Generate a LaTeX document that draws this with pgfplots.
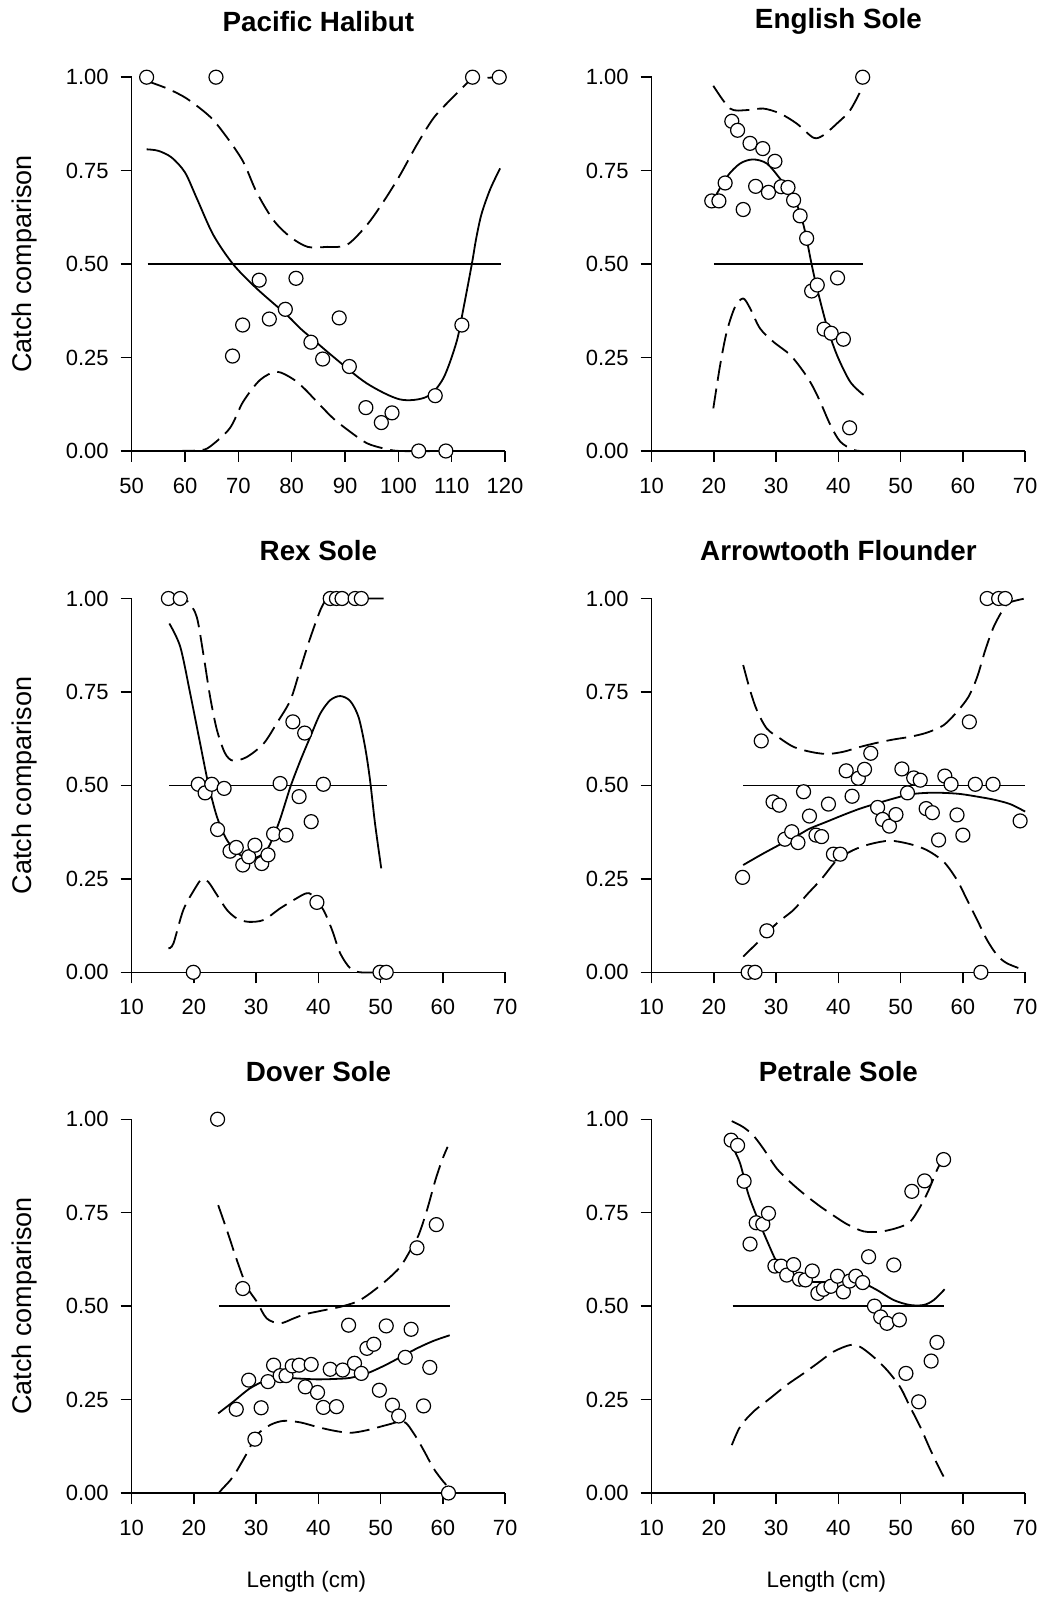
\documentclass[border=0pt]{standalone}
\usepackage{fontspec}
\setmainfont{Liberation Sans}
\usepackage{pgfplots}
\pgfplotsset{compat=1.18}

\pgfplotsset{
  panel/.style={
    width=186.7pt, height=186.9pt, scale only axis,
    xmin=10, xmax=70, ymin=0, ymax=1,
    xtick={10,20,...,70}, ytick={0,0.25,0.5,0.75,1},
    axis x line*=bottom, axis y line*=left,
    tick align=outside, major tick length=5.5pt,
    axis line style={line width=0.7pt},
    every tick/.style={black, line width=0.7pt},
    /pgf/number format/assume math mode=true,
    tick label style={font=\fontsize{11}{13}\selectfont},
    x tick label style={yshift=-4.5pt},
    y tick label style={xshift=-2.5pt, /pgf/number format/.cd, fixed, fixed zerofill, precision=2, /tikz/.cd},
    title style={font=\bfseries\fontsize{13.9}{16}\selectfont, at={(0.5,1)}, anchor=center, yshift=18pt},
    clip=false,
  },
  toprow/.style={title style={yshift=4pt}},
  leftpanel/.style={ylabel={Catch comparison},
    ylabel style={at={(axis description cs:-0.288,0.5)}, anchor=center,
      font=\fontsize{13.5}{16}\selectfont}},
  bottompanel/.style={xlabel={Length (cm)},
    xlabel style={at={(axis description cs:0.5,-0.254)}, anchor=base, xshift=-6pt,
      font=\fontsize{11.2}{13}\selectfont}},
  fit/.style={black, line width=0.9pt, smooth, no markers},
  ci/.style={black, line width=0.9pt, smooth, dash pattern=on 10pt off 4pt, no markers},
  ref/.style={black, line width=0.9pt, no markers},
  obs/.style={only marks, mark=*, mark size=3.5pt,
    mark options={fill=white, draw=black, line width=0.6pt}},
}

\begin{document}
\begin{tikzpicture}

% Pacific Halibut
\begin{axis}[panel, toprow, leftpanel, at={(0pt,0pt)}, title={Pacific Halibut},
  xmin=50, xmax=120, xtick={50,60,...,120}]
\addplot[ref] coordinates {(53,0.5) (119.3,0.5)};
\addplot[ci] coordinates {(52.8,0.99) (56.6,0.970) (60.3,0.943) (64.7,0.894) (67.8,0.840)
  (70.9,0.774) (73.4,0.693) (76.55,0.618) (79.7,0.573) (83.0,0.546) (86.6,0.546)
  (90.3,0.551) (94.06,0.604) (97.2,0.667) (100.3,0.738) (103.4,0.818) (106.55,0.890)
  (109.7,0.939) (112.8,0.983) (113.9,0.995) (118.9,1.0)};
\addplot[ci] coordinates {(52.8,0) (58,0) (62.8,0.002) (64.7,0.012) (68.4,0.061) (70.9,0.132)
  (74.06,0.190) (77.2,0.212) (80.3,0.192) (82.5,0.165) (84.7,0.132) (87.8,0.087)
  (90.9,0.052) (94.06,0.021) (97.2,0.007) (100.3,0) (110,0) (118.9,0)};
\addplot[fit] coordinates {(52.8,0.807) (55.0,0.803) (57.5,0.785) (60.0,0.745) (62.2,0.676)
  (65.3,0.578) (69.05,0.499) (73.4,0.435) (79.06,0.364) (81.6,0.328) (83.3,0.307)
  (87.8,0.252) (94.06,0.181) (100.3,0.138) (105.3,0.145) (108.4,0.194) (110.9,0.292)
  (112.2,0.382) (113.75,0.499) (114.6,0.57) (115.6,0.635) (117.2,0.70) (119.06,0.756)};
\addplot[obs] coordinates {(52.8,1) (65.8,1) (68.9,0.254) (70.8,0.337) (73.9,0.457)
  (75.8,0.353) (78.8,0.379) (80.8,0.462) (83.6,0.291) (85.8,0.246) (88.9,0.356)
  (90.8,0.226) (93.9,0.116) (96.8,0.076) (98.8,0.102) (103.8,0) (106.9,0.148)
  (108.9,0) (111.9,0.337) (113.9,1) (118.9,1)};
\end{axis}

% English Sole
\begin{axis}[panel, toprow, at={(260pt,0pt)}, title={English Sole}]
\addplot[ref] coordinates {(20,0.5) (44,0.5)};
\addplot[ci] coordinates {(19.9,0.977) (22.6,0.916) (25.3,0.912) (27.95,0.916) (30.6,0.903)
  (33.3,0.876) (36.0,0.838) (37.6,0.845) (39.76,0.876) (41.9,0.912) (43.9,0.974)};
\addplot[ci] coordinates {(19.9,0.114) (21.0,0.23) (22.06,0.319) (23.4,0.386) (24.7,0.408)
  (25.8,0.382) (27.4,0.328) (29.56,0.292) (32.25,0.257) (34.4,0.212) (35.8,0.175)
  (37.07,0.132) (38.7,0.07) (40.3,0.025) (42.4,0.003) (44,0)};
\addplot[fit] coordinates {(19.9,0.671) (22.06,0.733) (24.2,0.769) (26.3,0.78) (28.5,0.769)
  (30.6,0.729) (32.8,0.680) (34.4,0.604) (35.7,0.499) (36.5,0.44) (38.1,0.337)
  (39.76,0.257) (41.9,0.185) (44.04,0.15)};
\addplot[obs] coordinates {(19.65,0.669) (20.8,0.669) (21.8,0.717) (22.87,0.882) (23.8,0.858)
  (24.7,0.646) (25.8,0.823) (26.7,0.708) (27.85,0.809) (28.76,0.692) (29.8,0.775)
  (30.8,0.707) (31.9,0.705) (32.8,0.671) (33.85,0.629) (34.9,0.569) (35.7,0.428)
  (36.6,0.444) (37.7,0.326) (38.84,0.315) (39.86,0.463) (40.8,0.299) (41.8,0.062)
  (43.9,1.0)};
\end{axis}

% Rex Sole
\begin{axis}[panel, leftpanel, at={(0pt,-260.65pt)}, title={Rex Sole}]
\addplot[ref] coordinates {(16,0.5) (51.1,0.5)};
\addplot[ci] coordinates {(16,1.0) (17.8,1.0) (19.1,0.991) (20.45,0.951) (21.5,0.853)
  (22.6,0.737) (23.7,0.648) (25.0,0.586) (26.3,0.566) (28.5,0.576) (31.2,0.612)
  (33.3,0.666) (35.5,0.728) (37.07,0.81) (38.7,0.895) (40.56,0.978) (41.9,1.0)
  (46,1.0) (50.5,1.0)};
\addplot[ci] coordinates {(15.9,0.064) (16.7,0.077) (18.3,0.167) (20.2,0.225) (21.26,0.249)
  (22.3,0.242) (23.7,0.207) (25.3,0.167) (26.9,0.144) (28.76,0.135) (31.2,0.14)
  (33.85,0.171) (36.5,0.198) (38.0,0.211) (39.0,0.207) (40.8,0.167) (42.2,0.113)
  (43.5,0.051) (45.1,0.011) (46.7,0) (50.9,0)};
\addplot[fit] coordinates {(16.05,0.933) (17.8,0.871) (19.4,0.746) (21.0,0.612) (22.3,0.505)
  (23.7,0.416) (25.3,0.354) (27.4,0.314) (29.56,0.305) (31.7,0.327) (33.6,0.398)
  (35.5,0.496) (37.07,0.565) (38.7,0.63) (40.3,0.692) (41.9,0.728) (43.5,0.739)
  (45.1,0.726) (46.45,0.683) (47.5,0.603) (48.3,0.514) (49.1,0.398) (50.1,0.278)};
\addplot[obs] coordinates {(15.9,1) (17.8,1) (19.9,0) (20.7,0.503) (21.8,0.48) (22.87,0.503)
  (23.8,0.382) (24.85,0.492) (25.8,0.324) (26.8,0.334) (27.85,0.287) (28.8,0.309)
  (29.8,0.34) (30.9,0.291) (31.9,0.314) (32.8,0.37) (33.85,0.505) (34.8,0.367)
  (35.9,0.67) (36.9,0.47) (37.8,0.64) (38.84,0.403) (39.76,0.187) (40.8,0.503)
  (41.9,1) (42.9,1) (43.8,1) (45.9,1) (46.9,1) (49.9,0) (50.9,0)};
\end{axis}

% Arrowtooth Flounder
\begin{axis}[panel, at={(260pt,-260.65pt)}, title={Arrowtooth Flounder}]
\addplot[ref] coordinates {(24.7,0.5) (70,0.5)};
\addplot[ci] coordinates {(24.7,0.822) (25.8,0.755) (26.9,0.701) (28.5,0.652) (30.6,0.626)
  (32.8,0.603) (35.46,0.59) (38.15,0.584) (40.8,0.59) (43.5,0.603) (46.2,0.614)
  (48.9,0.623) (51.5,0.63) (54.2,0.641) (56.9,0.661) (59.06,0.697) (60.9,0.737)
  (62.3,0.79) (63.6,0.862) (64.95,0.924) (66.55,0.973) (67.6,0.99) (70,1.0)};
\addplot[ci] coordinates {(24.7,0.042) (27.4,0.086) (30.1,0.131) (32.8,0.167) (34.9,0.207)
  (37.3,0.25) (39.76,0.30) (42.4,0.327) (45.1,0.343) (48.3,0.352) (51.5,0.343)
  (54.2,0.327) (56.9,0.296) (59.06,0.247) (60.7,0.193) (62.3,0.14) (63.9,0.086)
  (65.5,0.046) (67.1,0.024) (70,0.005)};
\addplot[fit] coordinates {(24.7,0.287) (27.95,0.318) (31.2,0.347) (33.85,0.37) (35.46,0.385)
  (38.15,0.403) (40.8,0.421) (43.5,0.438) (46.2,0.452) (48.9,0.465) (51.5,0.476)
  (54.2,0.48) (56.9,0.48) (59.6,0.477) (62.3,0.47) (64.95,0.462) (67.6,0.45) (70,0.43)};
\addplot[obs] coordinates {(24.6,0.254) (25.5,0) (26.6,0) (27.6,0.619) (28.5,0.111)
  (29.5,0.456) (30.5,0.447) (31.4,0.356) (32.5,0.376) (33.5,0.347) (34.4,0.483)
  (35.35,0.418) (36.4,0.367) (37.3,0.363) (38.4,0.45) (39.2,0.316) (40.3,0.316)
  (41.25,0.539) (42.2,0.471) (43.2,0.519) (44.2,0.543) (45.2,0.586) (46.3,0.441)
  (47.1,0.409) (48.2,0.391) (49.25,0.422) (50.2,0.544) (51.1,0.48) (52.1,0.52)
  (53.15,0.514) (54.1,0.438) (55.1,0.427) (56.1,0.354) (57.1,0.525) (58.1,0.503)
  (59.06,0.421) (60.0,0.367) (61.04,0.67) (62.0,0.503) (62.9,0) (63.9,1)
  (64.85,0.503) (65.75,1) (66.8,1) (69.2,0.405)};
\end{axis}

% Dover Sole
\begin{axis}[panel, leftpanel, bottompanel, at={(0pt,-521pt)}, title={Dover Sole}]
\addplot[ref] coordinates {(24,0.5) (61.2,0.5)};
\addplot[ci] coordinates {(23.9,0.77) (25.3,0.703) (26.9,0.623) (28.5,0.552) (30.1,0.512)
  (31.7,0.467) (33.85,0.454) (36.0,0.467) (37.8,0.478) (40.3,0.487) (43.5,0.498)
  (46.2,0.512) (48.3,0.534) (51.0,0.57) (53.15,0.605) (54.8,0.65) (56.1,0.69)
  (57.45,0.757) (58.8,0.837) (59.86,0.89) (60.76,0.926)};
\addplot[ci] coordinates {(24.0,0) (24.5,0.01) (26.3,0.044) (28.5,0.106) (30.1,0.155)
  (32.25,0.182) (34.4,0.193) (37.07,0.189) (39.76,0.177) (42.4,0.167) (45.1,0.161)
  (47.8,0.168) (51.0,0.182) (53.7,0.191) (55.3,0.16) (56.9,0.115) (58.5,0.066)
  (60.1,0.03) (61.1,0.013)};
\addplot[fit] coordinates {(23.9,0.213) (26.3,0.244) (29.0,0.28) (31.7,0.302) (34.4,0.308)
  (37.07,0.306) (39.76,0.304) (42.4,0.305) (45.1,0.308) (47.8,0.32) (50.5,0.34)
  (53.15,0.363) (55.84,0.387) (58.5,0.407) (61.1,0.422)};
\addplot[obs] coordinates {(23.8,1) (26.8,0.224) (27.85,0.547) (28.8,0.302) (29.8,0.144)
  (30.8,0.228) (31.9,0.298) (32.8,0.342) (33.85,0.314) (34.8,0.314) (35.8,0.34)
  (36.9,0.342) (37.9,0.284) (38.84,0.344) (39.86,0.269) (40.8,0.229) (41.9,0.331)
  (42.9,0.231) (43.9,0.329) (44.85,0.449) (45.8,0.347) (46.9,0.32) (47.8,0.387)
  (48.9,0.398) (49.8,0.275) (50.9,0.447) (51.9,0.235) (52.9,0.206) (53.96,0.363)
  (54.9,0.438) (55.84,0.656) (56.9,0.233) (57.9,0.336) (58.95,0.718) (60.9,0)};
\end{axis}

% Petrale Sole
\begin{axis}[panel, bottompanel, at={(260pt,-521pt)}, title={Petrale Sole}]
\addplot[ref] coordinates {(23,0.5) (57,0.5)};
\addplot[ci] coordinates {(22.87,0.995) (24.7,0.979) (26.3,0.957) (27.95,0.921) (30.1,0.868)
  (32.25,0.832) (34.4,0.801) (36.8,0.77) (38.7,0.748) (41.4,0.719) (44.04,0.70)
  (46.7,0.699) (49.4,0.709) (51.5,0.725) (53.15,0.766) (54.5,0.81) (55.84,0.864)
  (56.9,0.899)};
\addplot[ci] coordinates {(22.87,0.128) (24.2,0.177) (26.3,0.217) (29.0,0.253) (31.7,0.289)
  (34.4,0.32) (36.8,0.349) (39.2,0.378) (41.9,0.396) (43.5,0.391) (45.65,0.364)
  (47.8,0.329) (49.9,0.284) (51.5,0.231) (53.15,0.177) (54.8,0.115) (56.1,0.07)
  (56.9,0.044)};
\addplot[fit] coordinates {(22.87,0.93) (24.2,0.882) (25.5,0.801) (26.9,0.739) (28.5,0.676)
  (30.1,0.618) (31.7,0.587) (33.85,0.572) (35.7,0.565) (38.15,0.565) (40.8,0.57)
  (43.5,0.565) (46.2,0.543) (48.9,0.516) (51.5,0.503) (53.7,0.503) (55.3,0.516)
  (57.07,0.545)};
\addplot[obs] coordinates {(22.76,0.944) (23.8,0.93) (24.85,0.834) (25.8,0.666) (26.8,0.723)
  (27.85,0.719) (28.76,0.748) (29.8,0.607) (30.8,0.607) (31.7,0.583) (32.8,0.611)
  (33.75,0.572) (34.7,0.57) (35.8,0.594) (36.7,0.534) (37.6,0.545) (38.8,0.553)
  (39.86,0.58) (40.8,0.538) (41.8,0.567) (42.8,0.58) (43.9,0.563) (44.85,0.632)
  (45.8,0.5) (46.8,0.471) (47.8,0.454) (48.9,0.61) (49.8,0.463) (50.85,0.32)
  (51.8,0.807) (52.9,0.244) (53.85,0.835) (54.9,0.353) (55.84,0.403) (56.9,0.892)};
\end{axis}

\pgfresetboundingbox
\path (-65.85pt,225.5pt) rectangle (455.65pt,-573.5pt);
\end{tikzpicture}
\end{document}
